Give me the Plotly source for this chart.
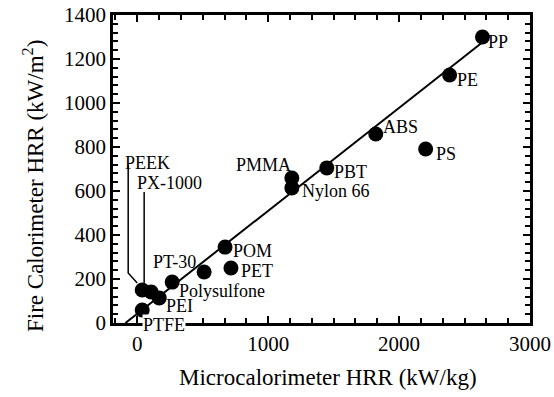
import plotly.graph_objects as go

# Data points (Microcalorimeter HRR kW/kg, Fire calorimeter HRR kW/m2)
names = ["PP", "PE", "ABS", "PS", "PBT", "PMMA", "Nylon 66", "POM", "PET",
         "", "PT-30", "PEEK", "PX-1000", "PEI", "PTFE"]
micro_hrr = [2637, 2386, 1822, 2203, 1448, 1181, 1181, 671, 716,
             511, 267, 38, 107, 168, 38]
fire_hrr = [1300, 1127, 859, 791, 705, 659, 614, 345, 250,
            232, 186, 150, 141, 114, 59]

# Fit line endpoints
fit_x = [-90, 2630]
fit_y = [0, 1273]

# Leader lines
peek_lx = [-69, -69, 0]
peek_ly = [718, 227, 182]
px_lx = [53, 53, 76]
px_ly = [595, 173, 159]

# Label texts and their positions
label_text = ["PEEK", "PX-1000", "PT-30", "POM", "PET", "Polysulfone", "PEI", "PTFE",
              "PMMA", "Nylon 66", "PBT", "ABS", "PS", "PE", "PP"]
label_x = [76, 244, 282, 884, 915, 648, 320, 206, 968, 1517, 1631, 2012, 2355, 2523, 2759]
label_y = [727, 636, 277, 327, 236, 145, 77, 0, 718, 600, 686, 891, 768, 1105, 1277]
label_shift = [0, 0, 0, 0, 0, 0, 0, -2, 0, 0, 0, 0, 0, 0, 0]

FONT = "Liberation Serif, Times New Roman, serif"

fig = go.Figure()
fig.add_trace(go.Scatter(x=fit_x, y=fit_y, mode="lines",
                         line=dict(color="black", width=2), showlegend=False))
fig.add_trace(go.Scatter(x=peek_lx, y=peek_ly, mode="lines",
                         line=dict(color="black", width=1.5), showlegend=False))
fig.add_trace(go.Scatter(x=px_lx, y=px_ly, mode="lines",
                         line=dict(color="black", width=1.5), showlegend=False))
fig.add_trace(go.Scatter(x=micro_hrr, y=fire_hrr, mode="markers",
                         marker=dict(color="black", size=15), showlegend=False,
                         cliponaxis=False))

for t, lx, ly, sh in zip(label_text, label_x, label_y, label_shift):
    fig.add_annotation(x=lx, y=ly, yshift=sh, text=t, showarrow=False,
                       font=dict(family=FONT, size=18, color="black"),
                       bgcolor="white" if t == "PTFE" else None,
                       borderpad=0,
                       xanchor="center", yanchor="middle")

fig.add_annotation(xref="paper", yref="paper", x=(328 - 113) / 417, y=(323 - 377) / 308,
                   text="Microcalorimeter HRR (kW/kg)", showarrow=False,
                   font=dict(family=FONT, size=23, color="black"),
                   xanchor="center", yanchor="middle")
fig.add_annotation(xref="paper", yref="paper", x=(33 - 113) / 417, y=(323 - 186) / 308,
                   text="Fire Calorimeter HRR (kW/m<sup>2</sup>)", showarrow=False,
                   textangle=-90,
                   font=dict(family=FONT, size=23, color="black"),
                   xanchor="center", yanchor="middle")

fig.update_layout(
    width=554, height=397,
    margin=dict(l=113, r=24, t=15, b=74),
    plot_bgcolor="white", paper_bgcolor="white",
    font=dict(family=FONT, color="black"),
)
fig.update_xaxes(range=[-185, 3000], tickvals=[0, 1000, 2000, 3000],
                 ticks="inside", ticklen=7, tickwidth=2, tickcolor="black",
                 minor=dict(dtick=1000 / 6, tick0=0, ticks="inside", ticklen=5,
                            tickwidth=1.5, tickcolor="black"),
                 showline=True, linewidth=2.5, linecolor="black", mirror="ticks",
                 showgrid=False, zeroline=False, automargin=False,
                 tickfont=dict(family=FONT, size=21, color="black"))
fig.update_yaxes(range=[0, 1400], dtick=200,
                 ticks="inside", ticklen=7, tickwidth=2, tickcolor="black",
                 minor=dict(dtick=40, ticks="inside", ticklen=5,
                            tickwidth=1.5, tickcolor="black"),
                 showline=True, linewidth=2.5, linecolor="black", mirror="ticks",
                 showgrid=False, zeroline=False, automargin=False,
                 tickfont=dict(family=FONT, size=21, color="black"))

fig.write_html("out.html", config={"displayModeBar": False},
               post_script="document.body.style.margin='0px';document.body.style.overflow='hidden';")
